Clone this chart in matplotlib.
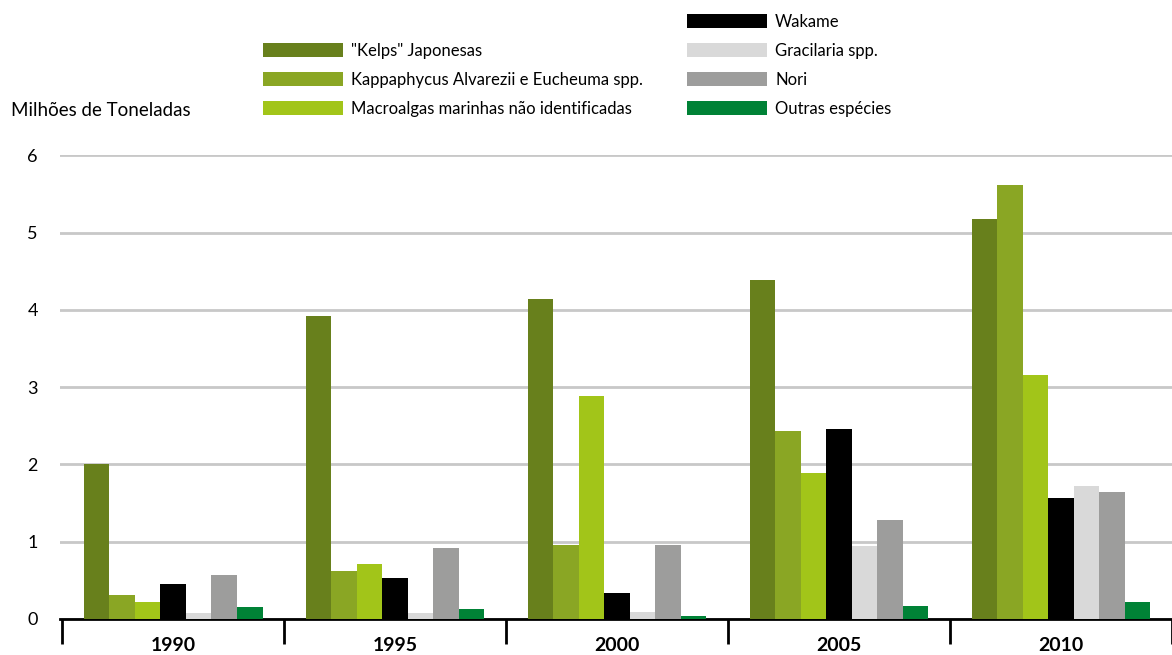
import numpy as np
import matplotlib
matplotlib.use("Agg")
import matplotlib.pyplot as plt

plt.rcParams['font.family'] = ['Lato', 'DejaVu Sans']

# produção de algas por espécie (milhões de toneladas)
anos = ['1990', '1995', '2000', '2005', '2010']
especies = ['"Kelps" Japonesas', 'Kappaphycus Alvarezii e Eucheuma spp.',
            'Macroalgas marinhas não identificadas', 'Wakame',
            'Gracilaria spp.', 'Nori', 'Outras espécies']
kelps = [2.00, 3.92, 4.14, 4.38, 5.17]
kappaphycus = [0.31, 0.62, 0.96, 2.43, 5.62]
macroalgas = [0.22, 0.71, 2.89, 1.89, 3.16]
wakame = [0.45, 0.53, 0.34, 2.46, 1.57]
gracilaria = [0.08, 0.08, 0.09, 0.94, 1.72]
nori = [0.57, 0.92, 0.96, 1.28, 1.64]
outras = [0.15, 0.13, 0.04, 0.17, 0.22]
valores = [kelps, kappaphycus, macroalgas, wakame, gracilaria, nori, outras]
cores = ['#68801c', '#8aa624', '#a2c519', '#000000', '#d9d9d9', '#9d9d9c', '#008236']

fig = plt.figure(figsize=(11.72, 6.55), dpi=100)
ax = fig.add_axes([0.0512, 0.055, 0.9488, 0.708])

x = np.arange(len(anos))
largura = 0.115
barras = []
for i, (serie, cor) in enumerate(zip(valores, cores)):
    b = ax.bar(x + (i - 3) * largura, serie, largura, color=cor, zorder=3)
    barras.append(b)

ax.set_ylim(0, 6)
ax.set_xlim(-0.51, 4.43)
ax.set_yticks(range(7))
ax.tick_params(axis='y', length=0, labelsize=13, pad=16)
ax.yaxis.grid(True, color='#c8c8c8', linewidth=2)
ax.set_axisbelow(True)

# separadores entre os anos e rótulos centrados
ax.set_xticks(np.arange(len(anos) + 1) - 0.5)
ax.set_xticklabels([])
ax.set_xticks(x, minor=True)
ax.set_xticklabels(anos, minor=True, fontsize=14, fontweight='bold')
ax.tick_params(axis='x', which='major', direction='out', length=18, width=2)
ax.tick_params(axis='x', which='minor', length=0, pad=13)

for lado in ['top', 'right', 'left']:
    ax.spines[lado].set_visible(False)
ax.spines['bottom'].set_linewidth(2)

fig.text(0.009, 0.832, 'Milhões de Toneladas', fontsize=13.5, va='center')

leg_kw = dict(frameon=False, fontsize=12, handlelength=4.8, handleheight=0.95,
              labelspacing=0.78, handletextpad=0.5, borderaxespad=0,
              borderpad=0)
leg1 = fig.legend(barras[:3], especies[:3], loc='upper left',
                  bbox_to_anchor=(0.224, 0.935), **leg_kw)
leg2 = fig.legend(barras[3:], especies[3:], loc='upper left',
                  bbox_to_anchor=(0.586, 0.979), **leg_kw)

plt.savefig('out.png', dpi=100)
